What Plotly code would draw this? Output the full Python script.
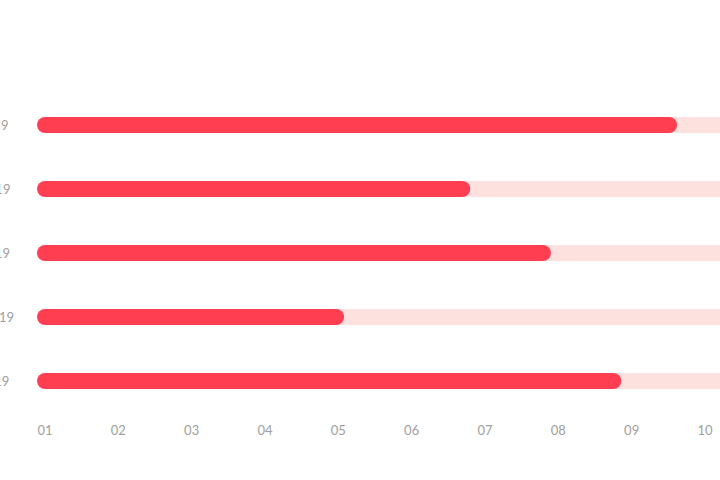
import plotly.graph_objects as go

categories = ["Jan 2019", "Feb 2019", "Apr 2019", "May 2019", "Jun 2019"]
values = [9.51, 6.69, 7.79, 4.97, 8.75]
track_end = 11
start = 1
tick_vals = [1, 2, 3, 4, 5, 6, 7, 8, 9, 10]
tick_text = ["01", "02", "03", "04", "05", "06", "07", "08", "09", "10"]

RED = "#ff3e52"
TRACK = "#fde1df"
GRAY = "#a0a0a0"
rows = list(range(len(categories)))

fig = go.Figure()
# background tracks
fig.add_trace(go.Bar(
    orientation="h", y=rows, base=[start] * len(rows),
    x=[track_end - start] * len(rows), width=0.25,
    marker=dict(color=TRACK, line=dict(width=0)), hoverinfo="skip",
))
# value bars
fig.add_trace(go.Bar(
    orientation="h", y=rows, base=[start] * len(rows),
    x=[v - start for v in values], width=0.25,
    marker=dict(color=RED, line=dict(width=0)),
))
# rounded caps
fig.add_trace(go.Scatter(
    x=[start] * len(rows) + values, y=rows + rows, mode="markers",
    marker=dict(color=RED, size=16, line=dict(width=0)),
    cliponaxis=False, hoverinfo="skip",
))

for i, c in enumerate(categories):
    fig.add_annotation(
        text=c, x=0, xref="paper", y=i, yref="y",
        xanchor="left", yanchor="middle", xshift=-76, showarrow=False,
        font=dict(family="Lato", size=13, color=GRAY),
    )

fig.update_layout(
    width=720, height=480,
    margin=dict(l=30, r=0, t=93, b=67),
    paper_bgcolor="white", plot_bgcolor="white",
    barmode="overlay", showlegend=False, bargap=0,
    font=dict(family="Lato", size=13, color=GRAY),
    xaxis=dict(range=[0.7955, 10.2045], tickvals=tick_vals, ticktext=tick_text,
               showgrid=False, zeroline=False, showline=False, ticks="",
               ticklabelstandoff=8, tickfont=dict(size=13, color=GRAY)),
    yaxis=dict(range=[4.5, -0.5], showgrid=False, zeroline=False,
               showline=False, showticklabels=False, ticks=""),
)

fig.write_html("out.html", config={"displayModeBar": False},
               post_script="document.body.style.margin='0';")
